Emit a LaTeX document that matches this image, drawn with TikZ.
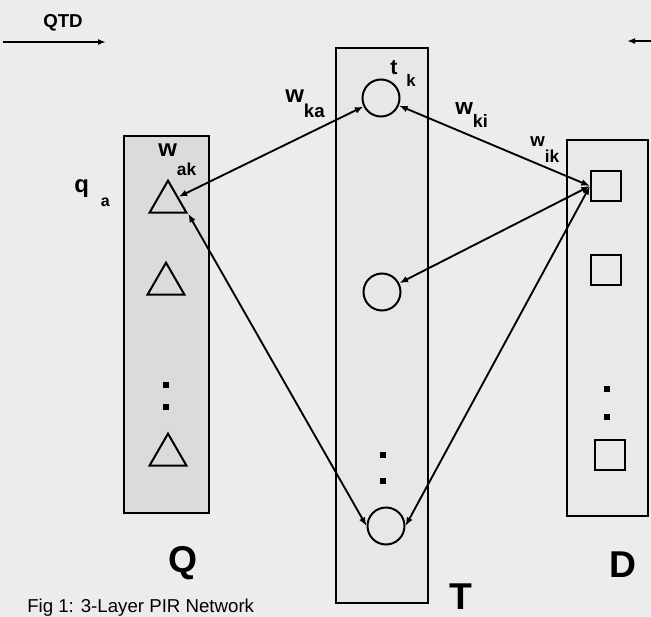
\documentclass[tikz,border=0pt]{standalone}
\usepackage{fontspec}
\setmainfont{Liberation Sans}
\usetikzlibrary{arrows,arrows.meta,shapes.geometric}
\definecolor{paper}{gray}{0.925}
\definecolor{qshade}{gray}{0.86}
\definecolor{tshade}{gray}{0.905}
\definecolor{dshade}{gray}{0.915}
\tikzstyle{arrow} = [line width=1.4pt,{Latex[length=6.5pt,width=5pt]}-{Latex[length=6.5pt,width=5pt]}]
\tikzstyle{flow} = [line width=1.2pt,-{Latex[length=6pt,width=4.5pt]}]
\tikzstyle{layer} = [draw, line width=1.5pt]
\tikzstyle{unit} = [draw, line width=1.5pt, circle, minimum size=27.75pt, inner sep=0pt]
\tikzstyle{query} = [draw, line width=1.5pt, regular polygon, regular polygon sides=3, minimum size=32pt, inner sep=0pt]
\tikzstyle{doc} = [draw, line width=1.5pt, minimum size=22.5pt, inner sep=0pt]
\tikzstyle{dot} = [fill, minimum size=4.5pt, inner sep=0pt]
\tikzstyle{lab} = [inner sep=0pt, anchor=base west, font=\bfseries]
\tikzstyle{big} = [inner sep=0pt, anchor=base, font=\fontsize{28}{28}\selectfont\bfseries]
\newcommand{\fs}[1]{\fontsize{#1}{#1}\selectfont}
\newcommand{\lowered}[3]{\raisebox{-#1}{\fs{#2}#3}}

\begin{document}
\begin{tikzpicture}[x=0.75pt,y=-0.75pt]
    \fill [paper] (0,0) rectangle (651,617);
    \useasboundingbox (0,0) rectangle (651,617);
    \clip (0,0) rectangle (651,617);
    % layers
    \draw [layer, fill=qshade] (124,136) rectangle (209,513);
    \draw [layer, fill=tshade] (336,48) rectangle (428,603);
    \draw [layer, fill=dshade] (567,140) rectangle (648,516);
    % query nodes
    \node (a1) [query] at (168,202) {};
    \node (a2) [query] at (166,284) {};
    \node (a3) [query] at (168,455) {};
    \node (qd1) [dot] at (166,385) {};
    \node (qd2) [dot] at (166,407) {};
    % term nodes
    \node (c1) [unit] at (381,98) {};
    \node (c2) [unit] at (382,292) {};
    \node (c3) [unit] at (386,526) {};
    \node (td1) [dot] at (383,455) {};
    \node (td2) [dot] at (383,481) {};
    % document nodes
    \node (s1) [doc] at (606,186) {};
    \node (s2) [doc] at (606,270) {};
    \node (s3) [doc] at (610,455) {};
    \node (dd1) [dot] at (607,389) {};
    \node (dd2) [dot] at (607,417) {};
    % links
    \draw [arrow] (a1) -- (c1);
    \draw [arrow] (c1) -- (s1.west);
    \draw [arrow] (c2) -- (s1.west);
    \draw [arrow] (a1.corner 3) -- (c3.west);
    \draw [arrow] (c3.east) -- (s1.west);
    % direction arrows
    \coordinate (qtdL) at (3,42);
    \coordinate (qtdR) at (106,42);
    \coordinate (dqtR) at (656,41);
    \coordinate (dqtL) at (627,41);
    \draw [flow] (qtdL) -- (qtdR);
    \draw [flow] (dqtR) -- (dqtL);
    \node (qtd) [inner sep=0pt, font=\fs{14}\bfseries] at (63,23) {QTD};
    % labels
    \node (qa) [lab] at (74,193) {\fs{18}q\hspace{9pt}\lowered{10pt}{12}{a}};
    \node (wak) [lab] at (158,157) {\fs{18}w\lowered{13.5pt}{13}{ak}};
    \node (wka) [lab] at (285,103) {\fs{18}w\lowered{11.25pt}{14}{ka}};
    \node (tk) [lab] at (390,75) {\fs{16}t\hspace{6.75pt}\lowered{9pt}{12.5}{k}};
    \node (wki) [lab] at (455,115) {\fs{17}w\lowered{9.75pt}{13.5}{ki}};
    \node (wik) [lab] at (530,147) {\fs{14}w\lowered{12pt}{13}{ik}};
    \node (lq) [big] at (183,572) {Q};
    \node (lt) [big] at (461,609) {T};
    \node (ld) [big] at (623,577) {D};
    \node (cap) [inner sep=0pt, anchor=base west, font=\fs{14}] at (27,612) {Fig 1: 3-Layer PIR Network};
\end{tikzpicture}
\end{document}
